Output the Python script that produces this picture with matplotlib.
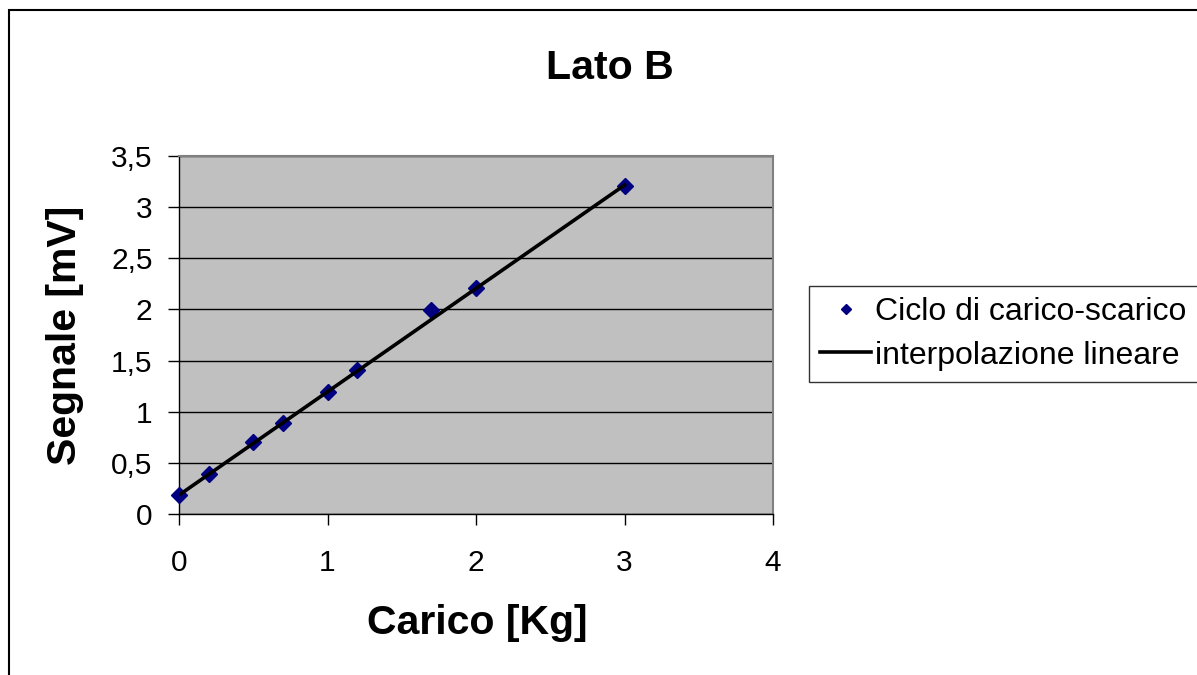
import matplotlib
matplotlib.use("Agg")
import matplotlib.pyplot as plt
from matplotlib.patches import Rectangle
from matplotlib.ticker import FuncFormatter, MultipleLocator

plt.rcParams['font.family'] = ['Liberation Sans', 'DejaVu Sans']

# data
carico = [0.0, 0.2, 0.5, 0.7, 1.0, 1.2, 1.7, 2.0, 3.0]
segnale = [0.19, 0.39, 0.70, 0.89, 1.19, 1.41, 1.99, 2.21, 3.21]
fit_x = [0.0, 3.0]
fit_y = [0.185, 3.215]

W, H = 1197, 675
fig = plt.figure(figsize=(W / 100, H / 100), dpi=100)
ax = fig.add_axes([179 / W, 1 - 514 / H, (773 - 179) / W, (514 - 156) / H])

# outer chart frame (runs off the right and bottom edges)
fig.patches.append(Rectangle((9 / W, -0.2), 1.5, 1.2 - 10 / H, transform=fig.transFigure,
                             fill=False, edgecolor='black', linewidth=1.5, clip_on=False))

ax.set_facecolor('#c0c0c0')
ax.plot(carico, segnale, linestyle='none', marker='D', markersize=8, color='#000080',
        label='Ciclo di carico-scarico', zorder=3, clip_on=False)
ax.plot(fit_x, fit_y, color='black', linewidth=2.6, label='interpolazione lineare', zorder=4)

ax.set_xlim(0, 4)
ax.set_ylim(0, 3.5)
ax.xaxis.set_major_locator(MultipleLocator(1))
ax.yaxis.set_major_locator(MultipleLocator(0.5))
fmt = FuncFormatter(lambda v, p: ('%g' % v).replace('.', ','))
ax.xaxis.set_major_formatter(fmt)
ax.yaxis.set_major_formatter(fmt)
ax.grid(axis='y', color='black', linewidth=1)
ax.set_axisbelow(True)
ax.tick_params(direction='out', length=8, width=1, labelsize=21.5)
ax.tick_params(axis='y', pad=11)
ax.tick_params(axis='x', pad=17)
for s in ['top', 'right']:
    ax.spines[s].set_color('#808080')
    ax.spines[s].set_linewidth(1.5)
for s in ['left', 'bottom']:
    ax.spines[s].set_color('black')
    ax.spines[s].set_linewidth(1)

fig.text(610 / W, 1 - 68 / H, 'Lato B', fontsize=29.5, fontweight='bold', ha='center', va='center')
fig.text(477 / W, 1 - 623 / H, 'Carico [Kg]', fontsize=29.5, fontweight='bold', ha='center', va='center')
fig.text(65 / W, 1 - 335 / H, 'Segnale [mV]', fontsize=29.5, fontweight='bold', ha='center', va='center',
         rotation=90)

lg = ax.legend(loc='upper left', bbox_to_anchor=(809 / W, 1 - 286 / H), bbox_transform=fig.transFigure,
               fontsize=23, frameon=True, fancybox=False, borderpad=0.35, handlelength=1.6,
               handletextpad=0.12, labelspacing=0.42, markerscale=0.7, borderaxespad=0)
lg.get_frame().set_edgecolor('black')
lg.get_frame().set_linewidth(1)

fig.savefig('out.png', dpi=100)
